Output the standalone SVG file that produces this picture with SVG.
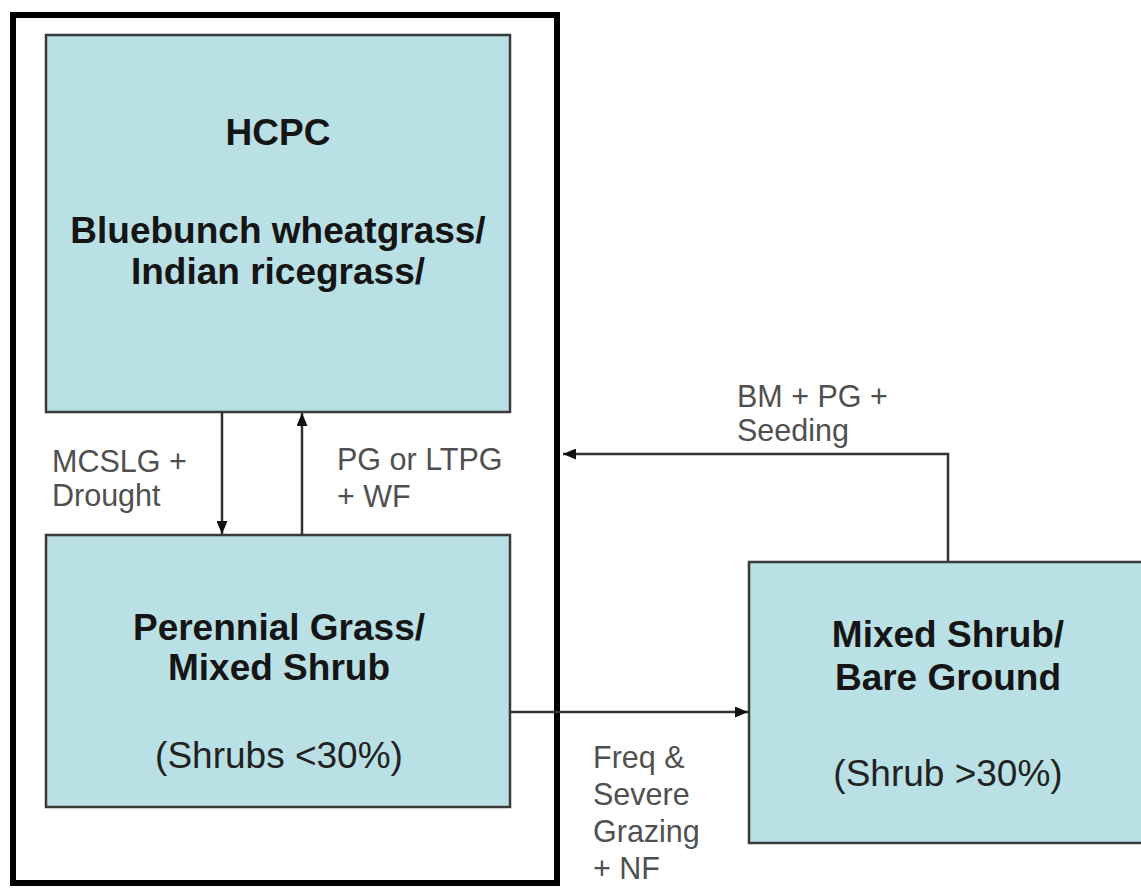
<svg xmlns="http://www.w3.org/2000/svg" width="1141" height="890" viewBox="0 0 1141 890">
<style>
.box{fill:#b9e0e4;stroke:#3a3a3a;stroke-width:2.5}
.b{font-family:"Liberation Sans",Arial,sans-serif;font-weight:bold;font-size:37px;fill:#151515;text-anchor:middle}
.r{font-family:"Liberation Sans",Arial,sans-serif;font-size:37px;fill:#222;text-anchor:middle}
.l{font-family:"Liberation Sans",Arial,sans-serif;font-size:30.5px;fill:#505050}
.c{fill:none;stroke:#333;stroke-width:2.5}
</style>
<defs>
<marker id="ah" viewBox="0 0 13 11" refX="13" refY="5.5" markerWidth="13" markerHeight="11" markerUnits="userSpaceOnUse" orient="auto">
<path d="M0,0 L13,5.5 L0,11 Z" fill="#111"/>
</marker>
</defs>
<rect width="1141" height="890" fill="#fff"/>
<g id="outer">
<rect x="13" y="15" width="544" height="868" fill="#fff" stroke="#000" stroke-width="6"/>
</g>
<g id="hcpc">
<rect class="box" x="46" y="35" width="464" height="377"/>
<text class="b" x="278" y="145" font-size="40">HCPC</text>
<text class="b" x="278" y="243">Bluebunch wheatgrass/</text>
<text class="b" x="278" y="284">Indian ricegrass/</text>
</g>
<g id="perennial">
<rect class="box" x="46" y="535" width="464" height="272"/>
<text class="b" x="279" y="640">Perennial Grass/</text>
<text class="b" x="279" y="680">Mixed Shrub</text>
<text class="r" x="279" y="768">(Shrubs &lt;30%)</text>
</g>
<g id="mixed">
<rect class="box" x="749" y="562" width="400" height="281"/>
<text class="b" x="948" y="647">Mixed Shrub/</text>
<text class="b" x="948" y="690">Bare Ground</text>
<text class="r" x="948" y="786">(Shrub &gt;30%)</text>
</g>
<g id="connectors">
<line class="c" x1="222" y1="412" x2="222" y2="534" marker-end="url(#ah)"/>
<line class="c" x1="302" y1="535" x2="302" y2="413" marker-end="url(#ah)"/>
<line class="c" x1="510" y1="712" x2="748" y2="712" marker-end="url(#ah)"/>
<polyline class="c" points="948,562 948,454 563,454" marker-end="url(#ah)"/>
</g>
<g id="labels">
<text class="l" x="52" y="472">MCSLG +</text>
<text class="l" x="52" y="506">Drought</text>
<text class="l" x="337" y="470">PG or LTPG</text>
<text class="l" x="337" y="507">+ WF</text>
<text class="l" x="737" y="407">BM + PG +</text>
<text class="l" x="737" y="441">Seeding</text>
<text class="l" x="593" y="768">Freq &amp;</text>
<text class="l" x="593" y="805">Severe</text>
<text class="l" x="593" y="842">Grazing</text>
<text class="l" x="593" y="879">+ NF</text>
</g>
</svg>
